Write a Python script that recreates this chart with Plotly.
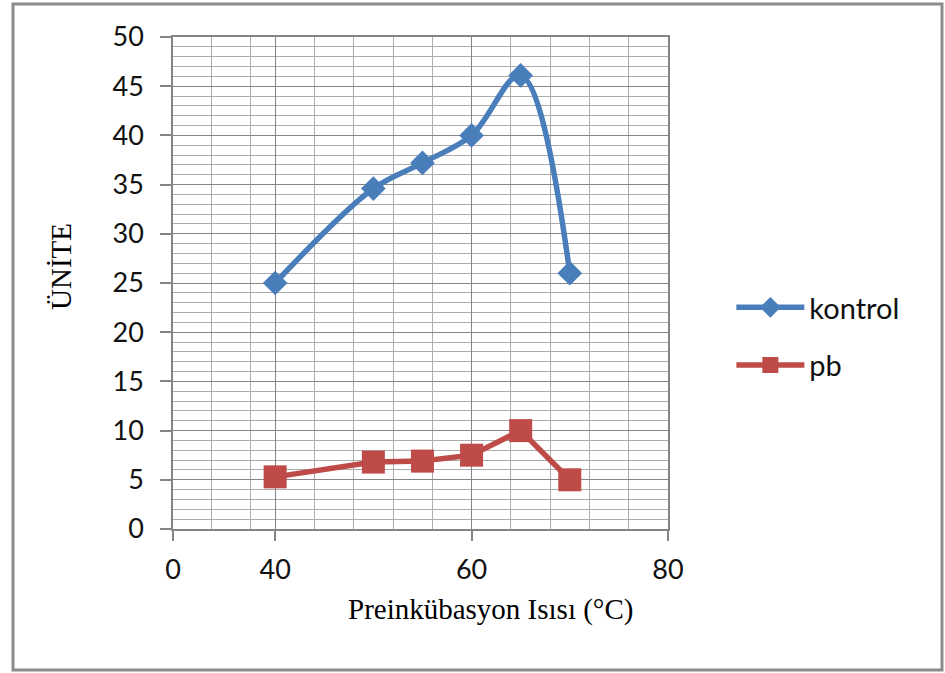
import plotly.graph_objects as go

# Preincubation temperature (°C) and measured units
temps = [40, 50, 55, 60, 65, 70]
kontrol = [25.0, 34.6, 37.2, 40.0, 46.1, 26.0]
pb = [5.3, 6.8, 6.9, 7.5, 10.0, 5.0]

# x-axis ticks and gridlines
x_range = [29.6, 80]
x_tickvals = [29.6, 40, 60, 80]
x_ticktext = ["0", "40", "60", "80"]
x_minor_grid = [33.5, 37.5, 44, 48, 52, 56, 64, 68, 72, 76]

BLUE = "#4a7ebb"
RED = "#be4b48"
TICK_FONT = dict(family="Lato", size=27, color="#111111")
SERIF = "Liberation Serif"

fig = go.Figure()
fig.add_trace(go.Scatter(
    x=temps, y=kontrol, name="kontrol", mode="lines+markers",
    line=dict(color=BLUE, width=5.5, shape="spline", smoothing=1.0),
    marker=dict(symbol="diamond", size=19, color=BLUE),
    legendgroup="a",
))
fig.add_trace(go.Scatter(
    x=temps, y=pb, name="pb", mode="lines+markers",
    line=dict(color=RED, width=5.5),
    marker=dict(symbol="square", size=23, color=RED),
    legendgroup="b",
))

fig.update_xaxes(
    range=x_range, tickmode="array", tickvals=x_tickvals, ticktext=x_ticktext,
    showgrid=True, gridcolor="#858585", gridwidth=1,
    minor=dict(tickvals=x_minor_grid, showgrid=True, gridcolor="#acacac", gridwidth=1),
    showline=True, linecolor="#858585", linewidth=1.5, mirror=True,
    ticks="outside", ticklen=10, tickcolor="#858585", tickwidth=1.5,
    ticklabelstandoff=6,
    tickfont=TICK_FONT, zeroline=False, fixedrange=True,
)
fig.update_yaxes(
    range=[0, 50], dtick=5, tick0=0,
    showgrid=True, gridcolor="#858585", gridwidth=1,
    minor=dict(dtick=1, showgrid=True, gridcolor="#acacac", gridwidth=1),
    showline=True, linecolor="#858585", linewidth=1.5, mirror=True,
    ticks="outside", ticklen=11, tickcolor="#858585", tickwidth=1.5,
    ticklabelstandoff=11,
    tickfont=TICK_FONT, zeroline=False, fixedrange=True,
)

# axis titles
fig.add_annotation(
    text="Preinkübasyon Isısı (°C)", xref="paper", yref="paper",
    x=(490 - 173) / 495, y=(529 - 609) / 492, showarrow=False,
    xanchor="center", yanchor="middle",
    font=dict(family=SERIF, size=29, color="#000000"),
)
fig.add_annotation(
    text="ÜNİTE", xref="paper", yref="paper", textangle=-90,
    x=(61 - 173) / 495, y=(529 - 267) / 492, showarrow=False,
    xanchor="center", yanchor="middle",
    font=dict(family=SERIF, size=29, color="#000000"),
)

# chart frame
fig.add_shape(
    type="rect", xref="paper", yref="paper",
    x0=(13 - 173) / 495, x1=(942 - 173) / 495,
    y0=(529 - 670) / 492, y1=(529 - 4) / 492,
    line=dict(color="#8c8c8c", width=3), layer="below",
)

fig.update_layout(
    width=945, height=673,
    margin=dict(l=173, r=277, t=37, b=144),
    paper_bgcolor="white", plot_bgcolor="white",
    showlegend=True,
    legend=dict(
        x=1.128, y=0.502, xanchor="left", yanchor="top",
        font=dict(family="Lato", size=29, color="#111111"),
        itemwidth=68, tracegroupgap=17, traceorder="grouped",
        bgcolor="rgba(0,0,0,0)",
    ),
)

fig.write_html("out.html")
